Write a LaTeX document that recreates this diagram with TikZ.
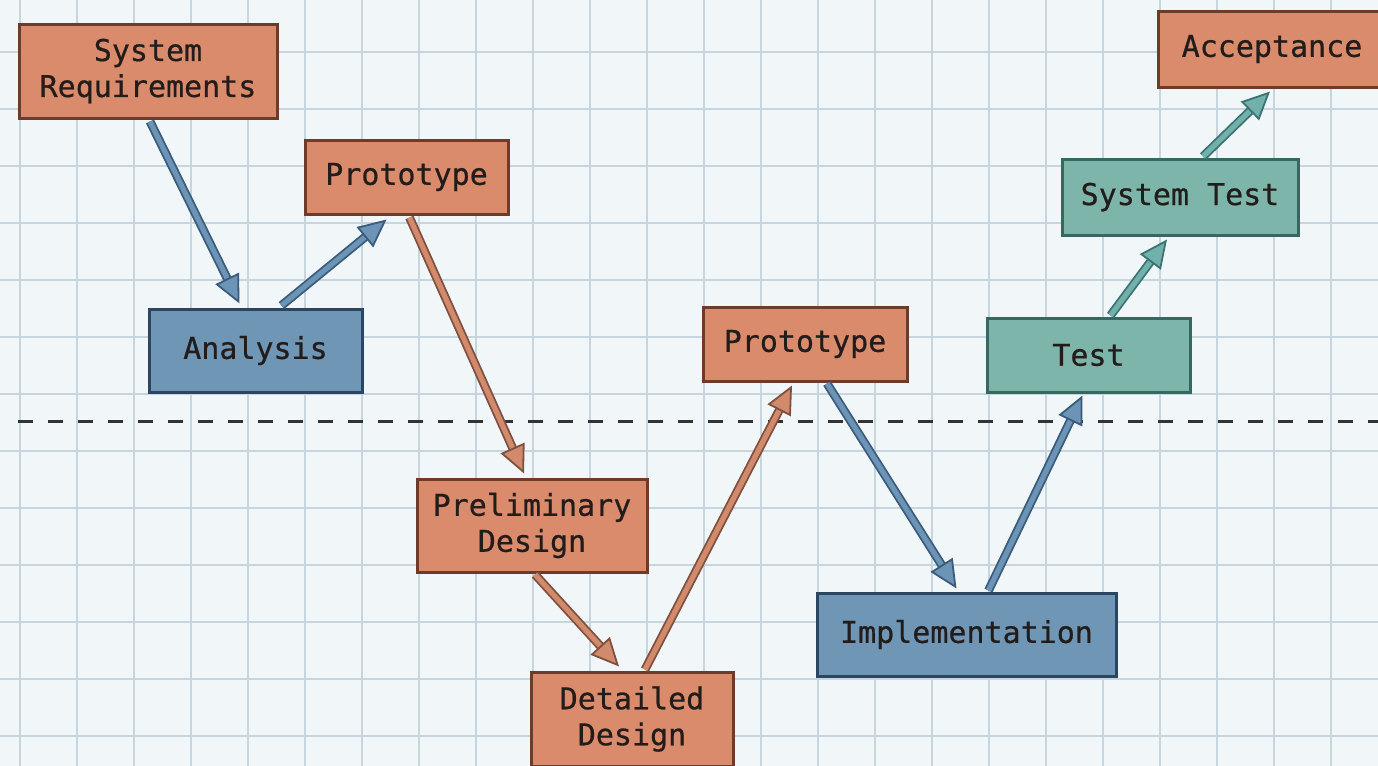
\documentclass[tikz,border=0pt]{standalone}
\usepackage{fontspec}
\newfontfamily\stagefont{DejaVu Sans Mono}[FakeBold=0.6]
\usetikzlibrary{arrows.meta,calc}

\definecolor{paper}{RGB}{241,246,249}
\definecolor{gridline}{RGB}{199,213,223}
\definecolor{orFill}{RGB}{217,139,108}
\definecolor{orEdge}{RGB}{110,58,42}
\definecolor{blFill}{RGB}{112,150,182}
\definecolor{blEdge}{RGB}{42,70,96}
\definecolor{tlFill}{RGB}{126,181,170}
\definecolor{tlEdge}{RGB}{52,104,96}
\definecolor{ink}{RGB}{34,28,26}
\definecolor{arBlD}{RGB}{58,92,122}
\definecolor{arBlL}{RGB}{108,148,182}
\definecolor{arOrD}{RGB}{128,80,62}
\definecolor{arOrL}{RGB}{210,138,108}
\definecolor{arTlD}{RGB}{58,116,114}
\definecolor{arTlL}{RGB}{114,176,172}

\tikzset{
  stage/.style={draw, line width=1.5pt, inner sep=0pt, align=center,
    font=\stagefont\fontsize{15}{18}\selectfont, text=ink},
  orbox/.style={stage, fill=orFill, draw=orEdge},
  blbox/.style={stage, fill=blFill, draw=blEdge},
  tlbox/.style={stage, fill=tlFill, draw=tlEdge},
  flow/.style={line width=0.9pt, double distance=2.6pt,
    -{Triangle[length=14pt,width=13pt,fill=#1L,color=#1D,line width=0.9pt]},
    draw=#1D, double=#1L},
}

\begin{document}
\begin{tikzpicture}[x=0.5pt,y=-0.5pt]
  \useasboundingbox (0,0) rectangle (1378,766);
  \fill[paper] (0,0) rectangle (1378,766);

  % graph paper
  \foreach \i in {0,...,24} {
    \draw[gridline, line width=0.75pt] ({20+57*\i},0) -- ({20+57*\i},766);
  }
  \foreach \j in {0,...,13} {
    \draw[gridline, line width=0.75pt] (0,{52+57*\j}) -- (1378,{52+57*\j});
  }

  % boundary between the two levels
  \coordinate (lineL) at (18,421);
  \coordinate (lineR) at (1378,421);
  \draw[black!80, line width=1.5pt, dash pattern=on 7.5pt off 7.5pt] (lineL) -- (lineR);

  % stages (sizes in pt; one unit of the picture is 0.5pt)
  \node[orbox, minimum width=129pt, minimum height=47pt] (sysreq) at (148,71) {System\\Requirements};
  \node[orbox, minimum width=101.5pt, minimum height=37pt] (proto1) at (406.5,177) {Prototype};
  \node[blbox, minimum width=106.5pt, minimum height=41.5pt] (analysis) at (255.5,350.5) {Analysis};
  \node[orbox, minimum width=115pt, minimum height=46.5pt] (prelim) at (532,525.5) {Preliminary\\Design};
  \node[orbox, minimum width=101pt, minimum height=47pt] (detailed) at (632,719) {Detailed\\Design};
  \node[orbox, minimum width=102pt, minimum height=37pt] (proto2) at (805,344) {Prototype};
  \node[blbox, minimum width=149.5pt, minimum height=41.5pt] (impl) at (966.5,634.5) {Implementation};
  \node[tlbox, minimum width=101.5pt, minimum height=37pt] (test) at (1088.5,355) {Test};
  \node[tlbox, minimum width=118pt, minimum height=38pt] (systest) at (1180,197) {System Test};
  \node[orbox, minimum width=114pt, minimum height=38pt] (accept) at (1272,49) {Acceptance};

  % transitions
  \draw[flow=arBl] ($(sysreq.south)+(2,2)$) -- ($(analysis.north)+(-16,-4)$);
  \draw[flow=arBl] ($(analysis.north)+(26,-2)$) -- ($(proto1.south)+(-20,4)$);
  \draw[flow=arOr] ($(proto1.south)+(3,2)$) -- ($(prelim.north)+(-8,-4)$);
  \draw[flow=arOr] ($(prelim.south)+(3,1)$) -- ($(detailed.north)+(-13,-4)$);
  \draw[flow=arOr] ($(detailed.north)+(13,-1)$) -- ($(proto2.south)+(-13,3)$);
  \draw[flow=arBl] ($(proto2.south)+(22,1)$) -- ($(impl.north)+(-10,-3)$);
  \draw[flow=arBl] ($(impl.north)+(22,-1)$) -- ($(test.south)+(-6,2)$);
  \draw[flow=arTl] ($(test.north)+(22,-1)$) -- ($(systest.south)+(-13,3)$);
  \draw[flow=arTl] ($(systest.north)+(23,-1)$) -- ($(accept.south)+(-2,3)$);
\end{tikzpicture}
\end{document}
